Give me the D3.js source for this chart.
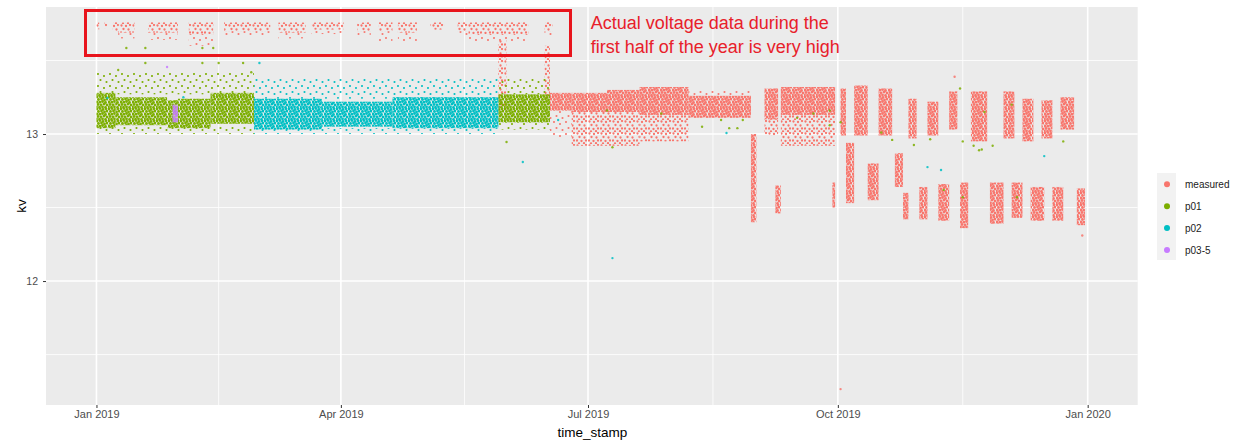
<!DOCTYPE html>
<html>
<head>
<meta charset="utf-8">
<script src="https://cdn.jsdelivr.net/npm/d3@7"></script>
<style>
  body { margin: 0; background: #fff; }
  svg { display: block; font-family: "Liberation Sans", Arial, sans-serif; }
</style>
</head>
<body>
<script>
const seriesNames = ['measured', 'p01', 'p02', 'p03-5']
const seriesColors = ['#F8766D', '#7CAE00', '#00BFC4', '#C77CFF']

// clouds of readings: [from, to, low kv, high kv, level]  level 3 = dense, 2 = medium, 1 = sparse
const measuredSpans = [
  // first half, the too-high readings
  ['2019-01-01', '2019-01-02', 13.71, 13.76, 2],
  ['2019-01-04', '2019-01-05', 13.72, 13.76, 2],
  ['2019-01-07', '2019-01-09', 13.70, 13.76, 2],
  ['2019-01-09', '2019-01-15', 13.69, 13.76, 2],
  ['2019-01-09', '2019-01-15', 13.65, 13.69, 1],
  ['2019-01-20', '2019-01-31', 13.69, 13.76, 2],
  ['2019-01-20', '2019-01-31', 13.64, 13.69, 1],
  ['2019-02-04', '2019-02-13', 13.68, 13.76, 2],
  ['2019-02-04', '2019-02-13', 13.60, 13.68, 1],
  ['2019-02-17', '2019-03-06', 13.70, 13.76, 2],
  ['2019-02-17', '2019-03-06', 13.67, 13.70, 1],
  ['2019-03-09', '2019-03-19', 13.69, 13.76, 2],
  ['2019-03-09', '2019-03-19', 13.65, 13.69, 1],
  ['2019-03-21', '2019-04-02', 13.71, 13.76, 2],
  ['2019-03-21', '2019-04-02', 13.68, 13.71, 1],
  ['2019-04-07', '2019-04-12', 13.70, 13.76, 2],
  ['2019-04-07', '2019-04-12', 13.66, 13.70, 1],
  ['2019-04-15', '2019-04-20', 13.70, 13.76, 2],
  ['2019-04-15', '2019-04-20', 13.63, 13.70, 1],
  ['2019-04-22', '2019-04-29', 13.69, 13.76, 2],
  ['2019-04-22', '2019-04-29', 13.62, 13.69, 1],
  ['2019-05-04', '2019-05-09', 13.71, 13.76, 2],
  ['2019-05-14', '2019-05-18', 13.70, 13.76, 2],
  ['2019-05-14', '2019-05-18', 13.66, 13.70, 1],
  ['2019-05-18', '2019-06-09', 13.68, 13.76, 2],
  ['2019-05-18', '2019-06-09', 13.62, 13.68, 1],
  ['2019-06-15', '2019-06-18', 13.70, 13.76, 2],
  ['2019-06-15', '2019-06-18', 13.65, 13.70, 1],
  // drops back to normal
  ['2019-05-29', '2019-06-01', 13.16, 13.64, 2],
  ['2019-06-15', '2019-06-17', 13.23, 13.60, 2],
  // second half
  ['2019-06-17', '2019-06-25', 13.16, 13.28, 3],
  ['2019-06-17', '2019-06-25', 12.97, 13.16, 1],
  ['2019-06-25', '2019-07-08', 13.15, 13.28, 3],
  ['2019-07-08', '2019-07-20', 13.15, 13.30, 3],
  ['2019-06-25', '2019-07-20', 12.92, 13.15, 2],
  ['2019-07-20', '2019-08-07', 13.13, 13.32, 3],
  ['2019-07-20', '2019-08-07', 12.95, 13.13, 2],
  ['2019-08-07', '2019-08-30', 13.11, 13.26, 3],
  ['2019-08-07', '2019-08-30', 13.26, 13.30, 1],
  ['2019-08-30', '2019-09-01', 12.40, 13.00, 3],
  ['2019-09-04', '2019-09-09', 13.10, 13.31, 3],
  ['2019-09-04', '2019-09-09', 12.99, 13.10, 2],
  ['2019-09-08', '2019-09-10', 12.46, 12.65, 3],
  ['2019-09-10', '2019-09-30', 13.13, 13.32, 3],
  ['2019-09-10', '2019-09-30', 12.92, 13.13, 2],
  ['2019-09-29', '2019-09-30', 12.50, 12.67, 3],
  ['2019-10-02', '2019-10-04', 12.99, 13.31, 3],
  ['2019-10-07', '2019-10-12', 12.99, 13.33, 3],
  ['2019-10-16', '2019-10-21', 12.99, 13.31, 3],
  ['2019-10-27', '2019-10-30', 12.97, 13.24, 3],
  ['2019-11-03', '2019-11-07', 12.99, 13.22, 3],
  ['2019-11-11', '2019-11-14', 13.03, 13.29, 3],
  ['2019-11-19', '2019-11-25', 12.95, 13.29, 3],
  ['2019-12-01', '2019-12-05', 12.97, 13.29, 3],
  ['2019-12-08', '2019-12-12', 12.95, 13.24, 3],
  ['2019-12-15', '2019-12-19', 12.97, 13.23, 3],
  ['2019-12-22', '2019-12-27', 13.03, 13.25, 3],
  ['2019-10-04', '2019-10-07', 12.53, 12.94, 3],
  ['2019-10-12', '2019-10-16', 12.55, 12.80, 3],
  ['2019-10-22', '2019-10-25', 12.64, 12.87, 3],
  ['2019-10-25', '2019-10-27', 12.42, 12.60, 3],
  ['2019-10-31', '2019-11-03', 12.42, 12.64, 3],
  ['2019-11-07', '2019-11-11', 12.41, 12.66, 3],
  ['2019-11-15', '2019-11-18', 12.36, 12.67, 3],
  ['2019-11-26', '2019-12-01', 12.39, 12.67, 3],
  ['2019-12-04', '2019-12-08', 12.43, 12.67, 3],
  ['2019-12-11', '2019-12-16', 12.41, 12.64, 3],
  ['2019-12-19', '2019-12-23', 12.41, 12.64, 3],
  ['2019-12-28', '2019-12-31', 12.38, 12.63, 3]
]
const p01Spans = [
  ['2019-01-01', '2019-01-08', 13.04, 13.28, 3],
  ['2019-01-08', '2019-01-27', 13.06, 13.25, 3],
  ['2019-01-27', '2019-01-31', 13.04, 13.23, 3],
  ['2019-01-31', '2019-02-12', 13.04, 13.24, 3],
  ['2019-02-12', '2019-02-28', 13.07, 13.28, 3],
  ['2019-01-01', '2019-02-28', 13.27, 13.42, 1],
  ['2019-01-01', '2019-02-28', 13.00, 13.05, 1],
  ['2019-05-29', '2019-06-17', 13.08, 13.27, 3],
  ['2019-05-29', '2019-06-17', 13.27, 13.38, 1],
  ['2019-05-29', '2019-06-17', 13.03, 13.08, 1]
]
const p02Spans = [
  ['2019-02-28', '2019-03-25', 13.03, 13.24, 3],
  ['2019-03-25', '2019-04-20', 13.05, 13.22, 3],
  ['2019-04-20', '2019-05-29', 13.04, 13.25, 3],
  ['2019-02-28', '2019-05-29', 13.24, 13.38, 1],
  ['2019-02-28', '2019-05-29', 13.00, 13.04, 1]
]
const p035Spans = [
  ['2019-01-29', '2019-01-31', 13.08, 13.20, 3]
]

// single readings away from the clouds: [date, kv]
const measuredPoints = [
  ['2019-10-02', 11.265], ['2019-11-13', 13.39], ['2019-12-30', 12.31]
]
const p01Points = [
  ['2019-01-12', 13.585], ['2019-01-19', 13.585], ['2019-02-09', 13.585], ['2019-02-13', 13.585],
  ['2019-01-09', 13.435], ['2019-01-19', 13.483], ['2019-02-09', 13.483], ['2019-02-15', 13.483],
  ['2019-02-24', 13.483], ['2019-02-27', 13.42], ['2019-06-01', 12.946],
  ['2019-07-10', 12.91], ['2019-08-12', 13.05], ['2019-08-19', 13.095], ['2019-08-22', 13.04],
  ['2019-08-25', 13.04], ['2019-08-27', 13.095], ['2019-09-28', 13.06], ['2019-10-02', 13.08],
  ['2019-10-17', 13.01], ['2019-10-21', 12.96], ['2019-10-29', 12.925], ['2019-11-04', 12.965],
  ['2019-11-16', 12.95], ['2019-11-20', 12.92], ['2019-11-22', 12.89], ['2019-11-23', 12.895],
  ['2019-11-27', 12.92], ['2019-12-23', 12.95], ['2019-11-15', 13.31],
  ['2019-07-08', 13.16], ['2019-07-28', 13.14], ['2019-09-16', 13.11], ['2019-09-22', 13.14],
  ['2019-09-28', 13.16], ['2019-11-24', 13.15], ['2019-12-04', 13.2],
  ['2019-11-09', 12.62], ['2019-11-16', 12.57], ['2019-12-06', 12.57]
]
const p02Points = [
  ['2019-03-02', 13.483], ['2019-06-07', 12.81], ['2019-07-10', 12.156], ['2019-01-05', 13.245],
  ['2019-06-20', 13.095], ['2019-02-02', 13.25], ['2019-12-16', 12.85], ['2019-11-03', 12.775],
  ['2019-11-08', 12.755], ['2019-08-21', 13.007]
]
const p035Points = [
  ['2019-01-27', 13.456]
]

const xTicks = ['2019-01-01', '2019-04-01', '2019-07-01', '2019-10-01', '2020-01-01']
const xTickLabels = ['Jan 2019', 'Apr 2019', 'Jul 2019', 'Oct 2019', 'Jan 2020']
const yTicks = [12, 13]
const yMinor = [11.5, 12.5, 13.5]

const W = 1241, H = 441
const panel = { left: 46, right: 1137.7, top: 7, bottom: 405 }
const parse = d3.utcParse('%Y-%m-%d')

const x = d3.scaleUtc()
  .domain([Date.UTC(2018, 11, 13, 10), Date.UTC(2020, 0, 19, 10)])
  .range([panel.left, panel.right])
const y = d3.scaleLinear()
  .domain([11.157, 13.864])
  .range([panel.bottom, panel.top])

const svg = d3.select('body').append('svg')
  .attr('width', W)
  .attr('height', H)

// dot textures standing in for the thousands of overlapping readings
const textures = {
  3: { size: 12, r: 1.4, dots: [[1, 1], [4, 0.5], [7, 1.5], [10, 0.8], [2.5, 3.5], [5.5, 3], [8.5, 4], [11, 3.2],
    [0.8, 6], [3.8, 6.2], [6.5, 5.5], [9.5, 6.5], [2, 8.5], [5, 8.8], [8, 8], [11, 9],
    [0.5, 11], [3.5, 11.2], [6.5, 10.8], [9.5, 11.5]] },
  2: { size: 12, r: 1.15, dots: [[1.5, 1.5], [6, 2], [10, 1], [3.5, 5], [8.5, 5.5], [1, 8.5], [5.5, 9], [10, 8.5], [3, 11.5], [8, 11.2]] },
  1: { size: 12, r: 1.05, dots: [[2, 2], [8, 4], [4.5, 8], [10.5, 10]] }
}
const defs = svg.append('defs')
seriesColors.forEach((c, i) => {
  Object.entries(textures).forEach(([lvl, t]) => {
    const p = defs.append('pattern')
      .attr('id', `tex-${i}-${lvl}`)
      .attr('patternUnits', 'userSpaceOnUse')
      .attr('width', t.size)
      .attr('height', t.size)
    p.selectAll('circle').data(t.dots).join('circle')
      .attr('cx', d => d[0]).attr('cy', d => d[1]).attr('r', t.r)
      .attr('fill', c)
  })
})

// panel
svg.append('rect')
  .attr('x', panel.left).attr('y', panel.top)
  .attr('width', panel.right - panel.left).attr('height', panel.bottom - panel.top)
  .attr('fill', '#EBEBEB')

const xt = xTicks.map(parse)
const xMinor = d3.pairs(xt).map(([a, b]) => new Date((+a + +b) / 2))

svg.append('g').selectAll('line').data(yMinor).join('line')
  .attr('x1', panel.left).attr('x2', panel.right)
  .attr('y1', d => y(d)).attr('y2', d => y(d))
  .attr('stroke', '#fff').attr('stroke-width', 0.8)
svg.append('g').selectAll('line').data(xMinor).join('line')
  .attr('y1', panel.top).attr('y2', panel.bottom)
  .attr('x1', d => x(d)).attr('x2', d => x(d))
  .attr('stroke', '#fff').attr('stroke-width', 0.8)
svg.append('g').selectAll('line').data(yTicks).join('line')
  .attr('x1', panel.left).attr('x2', panel.right)
  .attr('y1', d => y(d)).attr('y2', d => y(d))
  .attr('stroke', '#fff').attr('stroke-width', 1.6)
svg.append('g').selectAll('line').data(xt).join('line')
  .attr('y1', panel.top).attr('y2', panel.bottom)
  .attr('x1', d => x(d)).attr('x2', d => x(d))
  .attr('stroke', '#fff').attr('stroke-width', 1.6)

// data clouds
const allSpans = [measuredSpans, p01Spans, p02Spans, p035Spans]
allSpans.forEach((spans, i) => {
  svg.append('g').selectAll('rect').data(spans).join('rect')
    .attr('x', d => x(parse(d[0])))
    .attr('width', d => Math.max(2.5, x(parse(d[1])) - x(parse(d[0]))))
    .attr('y', d => y(d[3]))
    .attr('height', d => y(d[2]) - y(d[3]))
    .attr('fill', d => `url(#tex-${i}-${d[4]})`)
})

const allPoints = [measuredPoints, p01Points, p02Points, p035Points]
allPoints.forEach((pts, i) => {
  svg.append('g').selectAll('circle').data(pts).join('circle')
    .attr('cx', d => x(parse(d[0])))
    .attr('cy', d => y(d[1]))
    .attr('r', 1.2)
    .attr('fill', seriesColors[i])
    .attr('opacity', 0.85)
})

// axes
const xAxis = svg.append('g')
  .attr('transform', `translate(0,${panel.bottom})`)
  .call(d3.axisBottom(x).tickValues(xt).tickSize(3).tickFormat((d, i) => xTickLabels[i]))
xAxis.select('.domain').remove()
xAxis.selectAll('line').attr('stroke', '#333')
xAxis.selectAll('text').attr('fill', '#4D4D4D').attr('font-size', 11).attr('dy', '0.71em').attr('y', 5)
  .attr('font-family', '"Liberation Sans", Arial, sans-serif')

const yAxis = svg.append('g')
  .attr('transform', `translate(${panel.left},0)`)
  .call(d3.axisLeft(y).tickValues(yTicks).tickSize(3).tickPadding(5).tickFormat(d3.format('d')))
yAxis.select('.domain').remove()
yAxis.selectAll('line').attr('stroke', '#333')
yAxis.selectAll('text').attr('fill', '#4D4D4D').attr('font-size', 10.5)
  .attr('font-family', '"Liberation Sans", Arial, sans-serif')

svg.append('text')
  .attr('x', (panel.left + panel.right) / 2 + 0.5).attr('y', 436.5)
  .attr('text-anchor', 'middle').attr('font-size', 13.5).attr('fill', '#000')
  .text('time_stamp')
svg.append('text')
  .attr('transform', `translate(26,${(panel.top + panel.bottom) / 2}) rotate(-90)`)
  .attr('text-anchor', 'middle').attr('font-size', 13.5).attr('fill', '#000')
  .text('kv')

// legend
const leg = svg.append('g').attr('transform', 'translate(1157,173)')
leg.append('rect').attr('width', 19).attr('height', 87).attr('fill', '#F2F2F2')
seriesNames.forEach((n, i) => {
  leg.append('circle').attr('cx', 10).attr('cy', 11.3 + i * 21.9).attr('r', 3).attr('fill', seriesColors[i])
  leg.append('text').attr('x', 28).attr('y', 11.3 + i * 21.9).attr('dy', '0.35em')
    .attr('font-size', 10).attr('fill', '#222').text(n)
})

// annotation
svg.append('rect')
  .attr('x', 85.5).attr('y', 10.5).attr('width', 485).attr('height', 45)
  .attr('fill', 'none').attr('stroke', '#E8141C').attr('stroke-width', 3)
const note = svg.append('text').attr('font-size', 18).attr('fill', '#E8202A')
note.append('tspan').attr('x', 590.7).attr('y', 28.8).text('Actual voltage data during the')
note.append('tspan').attr('x', 590.7).attr('y', 52.8).text('first half of the year is very high')
</script>
</body>
</html>
